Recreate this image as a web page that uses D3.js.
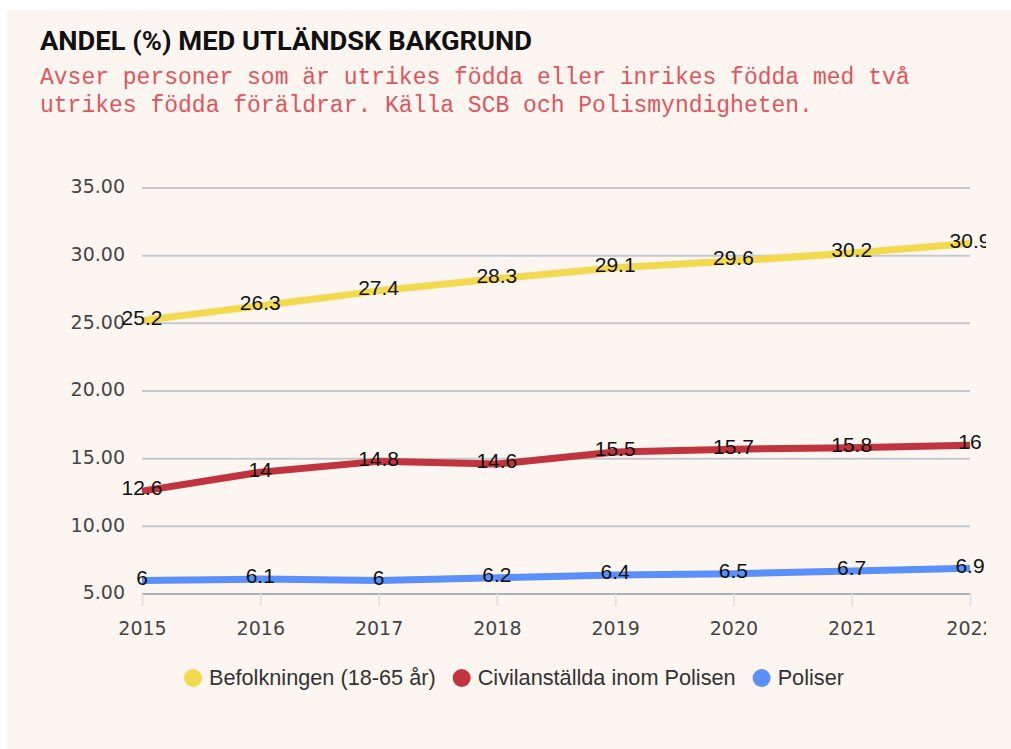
<!DOCTYPE html>
<html>
<head>
<meta charset="utf-8">
<script src="https://cdn.jsdelivr.net/npm/d3@7"></script>
<style>
  html, body { margin: 0; padding: 0; background: #ffffff; }
  svg { display: block; }
</style>
</head>
<body>
<svg id="chart" width="1011" height="749"></svg>
<script>
// Data
const years = [2015, 2016, 2017, 2018, 2019, 2020, 2021, 2022];
const befolkningen = [25.2, 26.3, 27.4, 28.3, 29.1, 29.6, 30.2, 30.9];
const civilanstallda = [12.6, 14, 14.8, 14.6, 15.5, 15.7, 15.8, 16];
const poliser = [6, 6.1, 6, 6.2, 6.4, 6.5, 6.7, 6.9];
const yTicks = [5, 10, 15, 20, 25, 30, 35];
const seriesNames = ['Befolkningen (18-65 år)', 'Civilanställda inom Polisen', 'Poliser'];
const seriesColors = ['#f2d94e', '#c0343f', '#5b8ff9'];

const svg = d3.select('#chart');

// Panel background
svg.append('rect')
  .attr('x', 7).attr('y', 10)
  .attr('width', 1004).attr('height', 739)
  .attr('fill', '#fdf5f0');

// Title + subtitle
svg.append('text')
  .attr('x', 40).attr('y', 50)
  .attr('font-family', '"Liberation Sans Narrow", "Roboto", sans-serif')
  .attr('font-weight', 'bold')
  .attr('font-size', 25)
  .attr('fill', '#111')
  .attr('textLength', 492)
  .attr('lengthAdjust', 'spacingAndGlyphs')
  .text('ANDEL (%) MED UTLÄNDSK BAKGRUND');

const subLines = [
  'Avser personer som är utrikes födda eller inrikes födda med två',
  'utrikes födda föräldrar. Källa SCB och Polismyndigheten.'
];
svg.selectAll('.sub')
  .data(subLines)
  .enter().append('text')
  .attr('class', 'sub')
  .attr('x', 40)
  .attr('y', (d, i) => 84 + i * 28)
  .attr('font-family', '"Liberation Mono", "DejaVu Sans Mono", monospace')
  .attr('font-size', 23)
  .attr('fill', '#e0555c')
  .text(d => d);

// Scales
const x = d3.scalePoint().domain(years).range([142, 970]);
const y = d3.scaleLinear().domain([5, 35]).range([594, 188]);

// Clip the chart area at the right (labels are cut in the original)
svg.append('clipPath').attr('id', 'clip')
  .append('rect').attr('x', 0).attr('y', 0).attr('width', 986).attr('height', 749);

const g = svg.append('g').attr('clip-path', 'url(#clip)');

// Gridlines
g.append('g')
  .selectAll('line')
  .data(yTicks.filter(t => t !== 5))
  .enter().append('line')
  .attr('x1', 142).attr('x2', 970)
  .attr('y1', d => y(d)).attr('y2', d => y(d))
  .attr('stroke', '#c3c9ce')
  .attr('stroke-width', 2);

// Y axis labels
const yAxis = g.append('g')
  .attr('transform', 'translate(125,0)')
  .call(d3.axisLeft(y).tickValues(yTicks).tickFormat(d3.format('.2f')).tickSize(0).tickPadding(0));
yAxis.select('.domain').remove();
yAxis.selectAll('text')
  .attr('font-family', '"DejaVu Sans", sans-serif')
  .attr('font-size', 19)
  .attr('fill', '#454545')
  .attr('dy', '0.25em');

// X axis
const xAxis = g.append('g')
  .attr('transform', 'translate(0,594)')
  .call(d3.axisBottom(x).tickSize(12).tickPadding(16));
xAxis.select('.domain')
  .attr('d', 'M142,0H970')
  .attr('stroke', '#aab2b9')
  .attr('stroke-width', 2);
xAxis.selectAll('.tick line')
  .attr('stroke', '#e2e2e2')
  .attr('stroke-width', 2);
xAxis.selectAll('text')
  .attr('font-family', '"DejaVu Sans", sans-serif')
  .attr('font-size', 19)
  .attr('fill', '#454545');

// Lines
const series = [befolkningen, civilanstallda, poliser];
const line = d3.line()
  .x((d, i) => x(years[i]))
  .y(d => y(d));

g.append('g')
  .selectAll('path')
  .data(series)
  .enter().append('path')
  .attr('d', d => line(d))
  .attr('fill', 'none')
  .attr('stroke', (d, i) => seriesColors[i])
  .attr('stroke-width', 7)
  .attr('stroke-linejoin', 'round');

// Value labels
series.forEach(values => {
  g.append('g')
    .selectAll('text')
    .data(values)
    .enter().append('text')
    .attr('x', (d, i) => x(years[i]))
    .attr('y', d => y(d) - 3)
    .attr('dy', '0.35em')
    .attr('text-anchor', 'middle')
    .attr('font-family', '"Liberation Sans", Arial, sans-serif')
    .attr('font-size', 21)
    .attr('fill', '#111')
    .text(d => d);
});

// Legend
const legend = svg.append('g');
let lx = 193;
seriesNames.forEach((name, i) => {
  legend.append('circle')
    .attr('cx', lx).attr('cy', 678).attr('r', 9)
    .attr('fill', seriesColors[i]);
  const t = legend.append('text')
    .attr('x', lx + 16).attr('y', 685)
    .attr('font-family', '"Liberation Sans", Arial, sans-serif')
    .attr('font-size', 21.7)
    .attr('fill', '#333')
    .text(name);
  lx += 16 + t.node().getComputedTextLength() + 26;
});
</script>
</body>
</html>
